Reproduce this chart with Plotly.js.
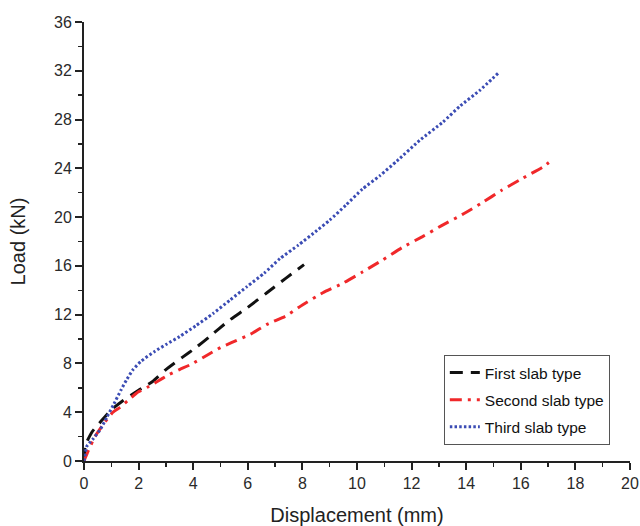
<!DOCTYPE html>
<html>
<head>
<meta charset="utf-8">
<script src="https://cdn.plot.ly/plotly-3.0.1.min.js"></script>
<style>html,body{margin:0;padding:0;background:#fff;}#chart{width:640px;height:526px;}</style>
</head>
<body>
<div id="chart"></div>
<script>
const seriesNames = ["First slab type", "Second slab type", "Third slab type"];

const firstX = [0, 0.05, 0.3, 0.6, 1.0, 1.4, 2.0, 2.5, 3.0, 3.6, 4.1, 4.6, 5.3, 6.0, 6.7, 7.4, 8.06];
const firstY = [0, 1.3, 2.4, 3.2, 4.2, 4.9, 5.8, 6.5, 7.5, 8.5, 9.3, 10.2, 11.5, 12.6, 13.8, 15.0, 16.1];

const secondX = [0, 0.15, 0.4, 0.77, 1.06, 1.32, 1.68, 1.98, 2.34, 2.67, 3.08, 3.5, 3.9, 4.6, 5.0, 5.4, 6.1, 6.7, 7.4, 8.0, 8.75, 9.5, 10.2, 10.95, 11.65, 12.4, 13.1, 13.85, 14.6, 15.3, 16.0, 16.8, 17.15];
const secondY = [0, 0.8, 2.0, 3.2, 4.0, 4.4, 5.1, 5.65, 6.07, 6.5, 7.05, 7.5, 7.9, 8.8, 9.3, 9.7, 10.4, 11.2, 11.9, 12.8, 13.8, 14.6, 15.5, 16.5, 17.5, 18.4, 19.3, 20.2, 21.2, 22.2, 23.1, 24.1, 24.7];

const thirdX = [0, 0.1, 0.33, 0.6, 0.84, 1.1, 1.35, 1.57, 1.8, 2.1, 2.6, 3.04, 3.5, 4.1, 4.73, 5.35, 5.97, 6.6, 7.18, 7.85, 8.53, 9.0, 9.6, 10.2, 10.84, 11.46, 12.3, 13.15, 13.77, 14.5, 15.17];
const thirdY = [0, 1.2, 1.8, 2.6, 3.6, 4.7, 5.8, 6.7, 7.5, 8.2, 9.0, 9.6, 10.2, 11.1, 12.1, 13.2, 14.3, 15.4, 16.6, 17.7, 18.9, 19.75, 21.0, 22.3, 23.4, 24.6, 26.3, 27.8, 29.1, 30.4, 31.8];

const xTicks = [0, 2, 4, 6, 8, 10, 12, 14, 16, 18, 20];
const yTicks = [0, 4, 8, 12, 16, 20, 24, 28, 32, 36];

const traces = [
  {x: firstX, y: firstY, name: seriesNames[0], legendgroup: 'a', mode: 'lines', type: 'scatter',
   line: {color: '#111111', width: 3, dash: '13px,8px', shape: 'spline', smoothing: 0.5}},
  {x: secondX, y: secondY, name: seriesNames[1], legendgroup: 'b', mode: 'lines', type: 'scatter',
   line: {color: '#f0282a', width: 3, dash: '12px,6px,3px,6px', shape: 'spline', smoothing: 0.5}},
  {x: thirdX, y: thirdY, name: seriesNames[2], legendgroup: 'c', mode: 'lines', type: 'scatter',
   line: {color: '#3b4cb4', width: 3, dash: '2.5px,2.2px', shape: 'spline', smoothing: 0.5}}
];

const fontFam = 'Liberation Sans, Arial, sans-serif';

const layout = {
  width: 640, height: 526,
  margin: {l: 84, r: 10, t: 22, b: 65},
  paper_bgcolor: '#ffffff', plot_bgcolor: '#ffffff',
  font: {family: fontFam, size: 16, color: '#2a2a2a'},
  showlegend: true,
  legend: {x: 0.659, y: 0.2415, xanchor: 'left', yanchor: 'top',
    bordercolor: '#555', borderwidth: 1, bgcolor: '#fff',
    font: {family: fontFam, size: 15.5, color: '#111'},
    traceorder: 'grouped', tracegroupgap: 4, itemwidth: 30},
  xaxis: {
    range: [0, 20], tickvals: xTicks, ticktext: xTicks.map(String),
    showgrid: false, zeroline: false, showline: true, linecolor: '#222', linewidth: 2,
    ticks: 'outside', ticklen: 7, tickwidth: 2, tickcolor: '#222',
    minor: {dtick: 1, tick0: 0, ticks: 'outside', ticklen: 4, tickwidth: 1.5, tickcolor: '#222', showgrid: false},
    tickfont: {size: 16, color: '#2a2a2a'},
    title: {text: 'Displacement (mm)', font: {size: 20, color: '#222'}, standoff: 17},
    fixedrange: true
  },
  yaxis: {
    range: [0, 36], tickvals: yTicks, ticktext: yTicks.map(String),
    showgrid: false, zeroline: false, showline: true, linecolor: '#222', linewidth: 2,
    ticks: 'outside', ticklen: 7, tickwidth: 2, tickcolor: '#222',
    minor: {dtick: 2, tick0: 0, ticks: 'outside', ticklen: 4, tickwidth: 1.5, tickcolor: '#222', showgrid: false},
    tickfont: {size: 16, color: '#2a2a2a'},
    title: {text: 'Load (kN)', font: {size: 20, color: '#222'}, standoff: 23},
    fixedrange: true
  },
  xaxis2: {
    overlaying: 'x', side: 'top', anchor: 'y', range: [0, 20], tickvals: xTicks,
    showticklabels: false, showgrid: false, zeroline: false, showline: true, linecolor: '#222', linewidth: 2,
    ticks: 'inside', ticklen: 7, tickwidth: 2, tickcolor: '#222',
    minor: {dtick: 1, tick0: 0, ticks: 'inside', ticklen: 4, tickwidth: 1.5, tickcolor: '#222', showgrid: false},
    fixedrange: true
  },
  yaxis2: {
    overlaying: 'y', side: 'right', anchor: 'x', range: [0, 36], tickvals: yTicks,
    showticklabels: false, showgrid: false, zeroline: false, showline: true, linecolor: '#222', linewidth: 2,
    ticks: 'inside', ticklen: 7, tickwidth: 2, tickcolor: '#222',
    minor: {dtick: 2, tick0: 0, ticks: 'inside', ticklen: 4, tickwidth: 1.5, tickcolor: '#222', showgrid: false},
    fixedrange: true
  }
};

Plotly.newPlot('chart', traces, layout, {displayModeBar: false, staticPlot: true});
</script>
</body>
</html>
